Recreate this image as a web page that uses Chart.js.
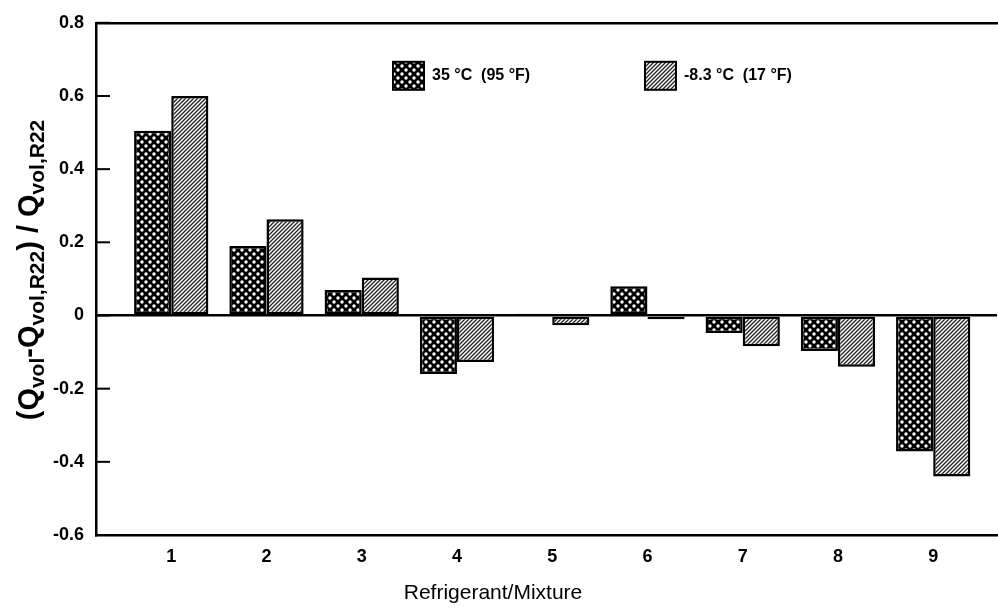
<!DOCTYPE html>
<html lang="en">
<head>
    <meta charset="UTF-8">
    <title>Refrigerant capacity chart</title>
    <script src="https://cdn.jsdelivr.net/npm/chart.js"></script>
    <style>
        html, body { margin: 0; padding: 0; background: #fff; overflow: hidden; }
        #wrap { width: 998px; height: 608px; }
    </style>
</head>
<body>
<div id="wrap"><canvas id="capChart" width="998" height="608"></canvas></div>
<script>
    // data
    const categories = ['1', '2', '3', '4', '5', '6', '7', '8', '9'];
    const seriesLabels = ['35 °C  (95 °F)', '-8.3 °C  (17 °F)'];
    const values35C = [0.505, 0.19, 0.07, -0.16, 0.005, 0.08, -0.048, -0.097, -0.372];
    const valuesMinus8C = [0.60, 0.263, 0.104, -0.127, -0.027, -0.01, -0.084, -0.14, -0.44];
    const yTicks = [0.8, 0.6, 0.4, 0.2, 0, -0.2, -0.4, -0.6];

    // fill patterns
    function dotPattern() {
        const c = document.createElement('canvas');
        c.width = 8; c.height = 8;
        const g = c.getContext('2d');
        g.fillStyle = '#000';
        g.fillRect(0, 0, 8, 8);
        g.fillStyle = '#fff';
        [[2, 2], [6, 6]].forEach(p => {
            g.beginPath();
            g.arc(p[0], p[1], 1.7, 0, Math.PI * 2);
            g.fill();
        });
        return g.createPattern(c, 'repeat');
    }
    function hatchPattern() {
        const c = document.createElement('canvas');
        c.width = 4; c.height = 4;
        const g = c.getContext('2d');
        g.fillStyle = '#fff';
        g.fillRect(0, 0, 4, 4);
        g.strokeStyle = '#222';
        g.lineWidth = 1.3;
        g.beginPath();
        g.moveTo(-1, 5); g.lineTo(5, -1);
        g.moveTo(-1, 1); g.lineTo(1, -1);
        g.moveTo(3, 5); g.lineTo(5, 3);
        g.stroke();
        return g.createPattern(c, 'repeat');
    }

    const FONT = "'Liberation Sans', Arial, sans-serif";

    // legend, axis titles and inward ticks
    const decorations = {
        id: 'decorations',
        afterDatasetsDraw(chart) {
            const ctx = chart.ctx;
            const area = chart.chartArea;
            const yScale = chart.scales.y;
            ctx.save();

            // inward tick marks on left axis
            ctx.strokeStyle = '#000';
            ctx.lineWidth = 2;
            yScale.ticks.forEach(t => {
                const py = yScale.getPixelForValue(t.value);
                ctx.beginPath();
                ctx.moveTo(area.left, py);
                ctx.lineTo(area.left + 14, py);
                ctx.stroke();
            });

            // legend
            const legendX = [area.left + 297, area.left + 549];
            const legendY = area.top + 53;
            chart.data.datasets.forEach((ds, i) => {
                const bx = legendX[i];
                ctx.fillStyle = ds.backgroundColor;
                ctx.fillRect(bx, legendY - 14, 31, 28);
                ctx.lineWidth = 2;
                ctx.strokeStyle = '#000';
                ctx.strokeRect(bx, legendY - 14, 31, 28);
                ctx.fillStyle = '#000';
                ctx.font = 'bold 16px ' + FONT;
                ctx.textAlign = 'left';
                ctx.textBaseline = 'middle';
                ctx.fillText(ds.label, bx + 39, legendY);
            });

            // x axis title
            ctx.font = '21px ' + FONT;
            ctx.textAlign = 'center';
            ctx.textBaseline = 'middle';
            ctx.fillStyle = '#000';
            ctx.fillText('Refrigerant/Mixture', 493, 593);

            // y axis title with subscripts
            const parts = [
                ['(Q', false], ['vol', true], ['-Q', false], ['vol,R22', true],
                [') / Q', false], ['vol,R22', true]
            ];
            const big = 'bold 29px ' + FONT;
            const small = 'bold 21px ' + FONT;
            let total = 0;
            parts.forEach(p => { ctx.font = p[1] ? small : big; total += ctx.measureText(p[0]).width; });
            ctx.translate(30, 270);
            ctx.rotate(-Math.PI / 2);
            ctx.textAlign = 'left';
            ctx.textBaseline = 'middle';
            let x = -total / 2;
            parts.forEach(p => {
                ctx.font = p[1] ? small : big;
                ctx.fillText(p[0], x, p[1] ? 8 : 0);
                x += ctx.measureText(p[0]).width;
            });
            ctx.restore();
        }
    };

    const ctx = document.getElementById('capChart').getContext('2d');
    new Chart(ctx, {
        type: 'bar',
        data: {
            labels: categories,
            datasets: [
                {
                    label: seriesLabels[0],
                    data: values35C,
                    backgroundColor: dotPattern(),
                    borderColor: '#000',
                    borderWidth: 2.5,
                    borderSkipped: false
                },
                {
                    label: seriesLabels[1],
                    data: valuesMinus8C,
                    backgroundColor: hatchPattern(),
                    borderColor: '#000',
                    borderWidth: 2.5,
                    borderSkipped: false
                }
            ]
        },
        plugins: [decorations],
        options: {
            responsive: false,
            animation: false,
            layout: { padding: { top: 13, right: 1, left: 0, bottom: 0 } },
            categoryPercentage: 0.78,
            barPercentage: 1.0,
            plugins: {
                legend: { display: false },
                tooltip: { enabled: false }
            },
            scales: {
                x: {
                    type: 'linear',
                    offset: false,
                    min: 0.21,
                    max: 9.67,
                    afterBuildTicks: axis => { axis.ticks = categories.map(c => ({ value: +c })); },
                    afterFit: axis => { axis.height = 73; },
                    grid: { display: false, drawTicks: false, offset: false },
                    border: { display: true, color: '#000', width: 2.5 },
                    ticks: {
                        padding: 11,
                        color: '#000',
                        font: { family: FONT, size: 18, weight: 'bold' },
                        callback: v => String(v)
                    }
                },
                xTop: {
                    type: 'linear',
                    position: 'top',
                    afterFit: axis => { axis.height = 0; },
                    grid: { display: false, drawTicks: false },
                    border: { display: true, color: '#000', width: 2.5 },
                    ticks: { display: false }
                },
                y: {
                    min: -0.6,
                    max: 0.8,
                    afterBuildTicks: axis => { axis.ticks = yTicks.map(v => ({ value: v })); },
                    afterFit: axis => { axis.width = 96; },
                    grid: {
                        drawTicks: false,
                        color: c => c.tick && c.tick.value === 0 ? '#000' : 'rgba(0,0,0,0)',
                        lineWidth: 2.5
                    },
                    border: { display: true, color: '#000', width: 2.5 },
                    ticks: {
                        padding: 12,
                        color: '#000',
                        font: { family: FONT, size: 18, weight: 'bold' },
                        callback: v => String(v)
                    }
                }
            }
        }
    });
</script>
</body>
</html>
